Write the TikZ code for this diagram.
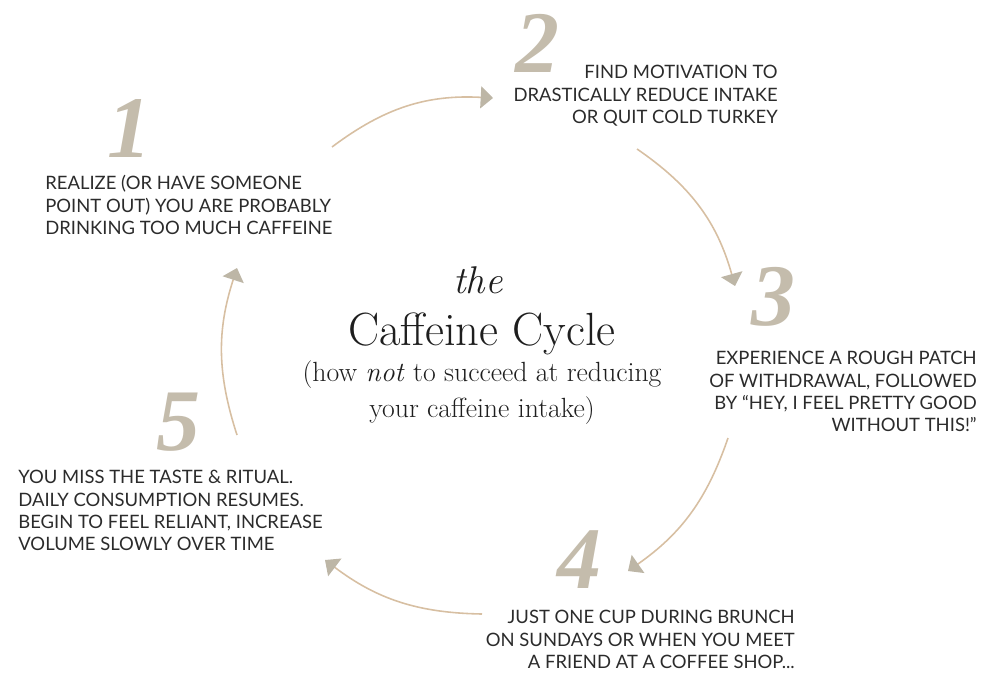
\documentclass[tikz,border=0pt]{standalone}
\usepackage{fontspec}
\setsansfont{Lato}
\newfontfamily\stepnumfont{Liberation Serif}
\usetikzlibrary{arrows.meta, positioning}
\definecolor{cupline}{HTML}{D7BFA2}
\definecolor{cuphead}{HTML}{BDB6A6}
\definecolor{cupnum}{HTML}{C4BCAC}
\definecolor{cuptext}{HTML}{2B2B2B}
\definecolor{cuptitle}{HTML}{1E1E1E}

\begin{document}
\begin{tikzpicture}[x=0.02cm, y=-0.02cm,
  num/.style={text=cupnum, inner sep=0pt, anchor=base,
    font=\stepnumfont\fontsize{50}{50}\selectfont\bfseries\itshape},
  txt/.style={text=cuptext, inner sep=0pt,
    font=\fontsize{10.5}{12.75}\selectfont\sffamily},
  arr/.style={draw=cupline, line width=0.9pt,
    -{Triangle[length=7pt, width=12.5pt, color=cuphead]}}
]
  \useasboundingbox (0,0) rectangle (1000,690);

  % Title
  \node[text=cuptitle, inner sep=0pt, anchor=base,
    font=\fontsize{22}{22}\selectfont\itshape] (the) at (478, 293) {the};
  \node[text=cuptitle, inner sep=0pt, anchor=base,
    font=\fontsize{26.5}{26.5}\selectfont] (title) at (482, 345) {Caffeine Cycle};
  \node[text=cuptitle, inner sep=0pt, anchor=base, align=center,
    font=\fontsize{15.8}{20}\selectfont] (sub) at (482, 417)
    {(how \textit{not} to succeed at reducing\\your caffeine intake)};

  % Steps
  \node[num] (n1) at (129, 157) {1};
  \node[txt, anchor=north west, align=left] (s1) at (45, 175)
    {REALIZE (OR HAVE SOMEONE\\POINT OUT) YOU ARE PROBABLY\\DRINKING TOO MUCH CAFFEINE};
  \node[num] (n2) at (537, 72) {2};
  \node[txt, anchor=north east, align=right] (s2) at (778, 65)
    {FIND MOTIVATION TO\\DRASTICALLY REDUCE INTAKE\\OR QUIT COLD TURKEY};
  \node[num] (n3) at (773, 325) {3};
  \node[txt, anchor=north east, align=right] (s3) at (977, 351)
    {EXPERIENCE A ROUGH PATCH\\OF WITHDRAWAL, FOLLOWED\\BY “HEY, I FEEL PRETTY GOOD\\WITHOUT THIS!”};
  \node[num] (n4) at (579, 588) {4};
  \node[txt, anchor=north east, align=right] (s4) at (795, 610)
    {JUST ONE CUP DURING BRUNCH\\ON SUNDAYS OR WHEN YOU MEET\\A FRIEND AT A COFFEE SHOP...};
  \node[num] (n5) at (178, 450) {5};
  \node[txt, anchor=north west, align=left] (s5) at (18, 470)
    {YOU MISS THE TASTE \& RITUAL.\\DAILY CONSUMPTION RESUMES.\\BEGIN TO FEEL RELIANT, INCREASE\\VOLUME SLOWLY OVER TIME};

  % Arrows
  \coordinate (a1s) at (332, 147);
  \coordinate (a1e) at (493, 98);
  \coordinate (a2s) at (637, 149);
  \coordinate (a2e) at (735, 286);
  \coordinate (a3s) at (728, 438);
  \coordinate (a3e) at (628, 571);
  \coordinate (a4s) at (482, 614);
  \coordinate (a4e) at (325, 560);
  \coordinate (a5s) at (237, 435);
  \coordinate (a5e) at (237, 268);
  \draw[arr] (a1s) to[bend left=20] (a1e);
  \draw[arr] (a2s) to[bend left=20] (a2e);
  \draw[arr] (a3s) to[bend left=18] (a3e);
  \draw[arr] (a4s) to[bend left=18] (a4e);
  \draw[arr] (a5s) to[bend left=18] (a5e);
\end{tikzpicture}
\end{document}
